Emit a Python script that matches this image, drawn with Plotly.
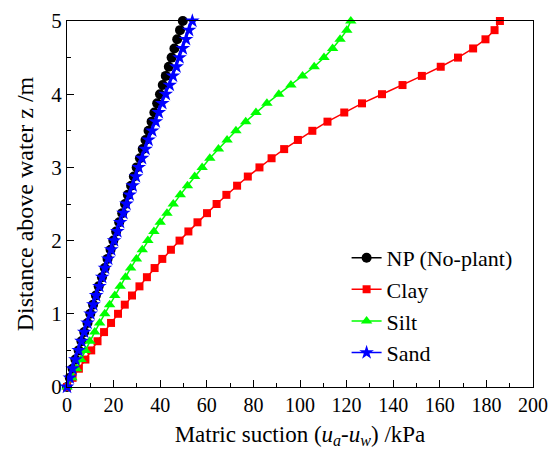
import plotly.graph_objects as go

z = [i * 0.125 for i in range(41)]

np_vals = [0, 1.2, 2.4, 3.6, 5.0, 6.2, 7.4, 8.8, 10.0, 11.2, 12.4, 13.6, 15.0, 16.2, 17.4, 18.7,
           19.9, 21.1, 22.4, 23.7, 24.9, 26.1, 27.5, 28.7, 29.9, 31.3, 32.5, 33.7, 35.0, 36.3,
           37.5, 38.7, 39.9, 41.1, 42.4, 43.7, 44.9, 46.1, 47.3, 48.5, 49.7]
clay_vals = [0, 2.4, 5.1, 7.9, 10.4, 13.1, 15.9, 18.9, 21.9, 24.8, 27.9, 31.1, 34.3, 37.6, 40.9,
             44.6, 48.3, 52.1, 56.0, 60.1, 64.2, 68.4, 73.0, 77.6, 82.6, 87.8, 93.2, 99.1, 105.3,
             111.8, 119.0, 126.6, 135.2, 144.0, 152.3, 160.4, 167.8, 174.3, 179.6, 183.5, 185.8]
silt_vals = [0, 2.1, 4.1, 6.0, 7.9, 9.8, 11.9, 14.0, 16.2, 18.3, 20.5, 22.8, 25.1, 27.3, 29.8,
             32.3, 34.7, 37.3, 40.0, 42.9, 45.6, 48.6, 51.7, 54.8, 58.0, 61.3, 65.0, 68.7, 72.5,
             76.7, 81.1, 85.8, 90.9, 96.1, 101.1, 106.1, 110.3, 114.0, 117.2, 120.1, 121.8]
sand_vals = [0, 1.2, 2.4, 3.6, 5.0, 6.2, 7.4, 8.8, 10.1, 11.3, 12.5, 13.9, 15.1, 16.3, 17.7,
             19.0, 20.2, 21.6, 22.8, 24.2, 25.5, 26.9, 28.2, 29.6, 30.8, 32.2, 33.7, 35.0, 36.6,
             38.1, 39.4, 40.9, 42.4, 44.1, 45.5, 47.0, 48.3, 49.7, 51.1, 52.4, 53.8]

names = ["NP (No-plant)", "Clay", "Silt", "Sand"]
colors = ["#000000", "#ff0000", "#00ff00", "#0000ff"]
symbols = ["circle", "square", "triangle-up", "star"]
sizes = [10, 8, 10, 11]
series = [np_vals, clay_vals, silt_vals, sand_vals]

fig = go.Figure()
for name, col, sym, sz, vals in zip(names, colors, symbols, sizes, series):
    fig.add_trace(go.Scatter(
        x=vals, y=z, name=name, mode="lines+markers",
        line=dict(color=col, width=1.5),
        marker=dict(symbol=sym, size=sz, color=col, line=dict(width=0)),
        cliponaxis=False,
    ))

font = "Liberation Serif"
fig.update_layout(
    width=548, height=450,
    margin=dict(l=67, r=15, t=21, b=63, autoexpand=False),
    paper_bgcolor="white", plot_bgcolor="white",
    font=dict(family=font, size=19, color="black"),
    showlegend=True,
    legend=dict(x=0.6, y=0.41, xanchor="left", yanchor="top",
                bgcolor="rgba(0,0,0,0)", font=dict(family=font, size=22),
                tracegroupgap=0, itemwidth=30),
)
fig.update_xaxes(
    range=[0, 200], tickvals=list(range(0, 201, 20)),
    ticks="inside", ticklen=7, tickwidth=1, tickcolor="black",
    minor=dict(ticks="inside", ticklen=4, dtick=10, tickcolor="black"),
    showline=True, linecolor="black", linewidth=1, mirror=True,
    showgrid=False, zeroline=False, automargin=False,
    tickfont=dict(family=font, size=20),
    title=dict(text="Matric suction (<i>u</i><sub><i>a</i></sub>-<i>u</i><sub><i>w</i></sub>) /kPa",
               font=dict(family=font, size=23), standoff=10),
)
fig.update_yaxes(
    range=[0, 5], tickvals=[0, 1, 2, 3, 4, 5],
    ticks="inside", ticklen=7, tickwidth=1, tickcolor="black",
    minor=dict(ticks="inside", ticklen=4, dtick=0.5, tickcolor="black"),
    showline=True, linecolor="black", linewidth=1, mirror=True,
    showgrid=False, zeroline=False, automargin=False,
    tickfont=dict(family=font, size=21),
    title=dict(text="Distance above water z /m", font=dict(family=font, size=24), standoff=10),
)

fig.write_html("out.html")
